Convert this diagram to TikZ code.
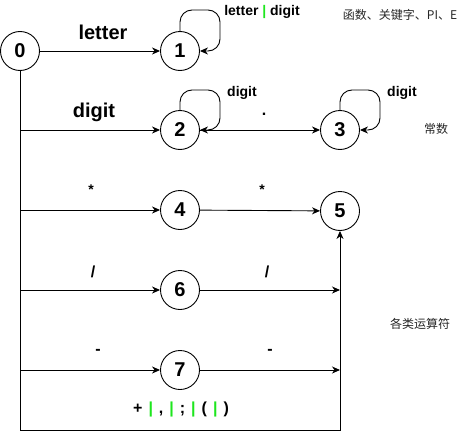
\documentclass[tikz,border=0pt]{standalone}
\usepackage{fontspec}
\setmainfont{Liberation Sans}
\newfontfamily\cjk{Noto Sans CJK SC}
\usetikzlibrary{arrows.meta}
\definecolor{bargreen}{RGB}{30,230,30}
\newcommand{\gbar}{\textcolor{bargreen}{|}}
\newcommand{\gsp}{\hspace{6pt}}
\begin{document}
\begin{tikzpicture}[x=1pt,y=-1pt,
  state/.style={circle, draw, line width=0.9pt, minimum size=39pt, inner sep=0pt, font=\fontsize{20}{24}\selectfont\bfseries},
  arr/.style={line width=0.9pt, -{Stealth[length=8pt,width=7pt,inset=2.5pt]}},
  big/.style={font=\fontsize{20}{24}\selectfont\bfseries, inner sep=0pt},
  small/.style={font=\fontsize{14}{16}\selectfont\bfseries, inner sep=0pt},
  mid/.style={font=\fontsize{16}{18}\selectfont\bfseries, inner sep=0pt},
  note/.style={font=\cjk\fontsize{12}{14}\selectfont, text=black!85, inner sep=0pt}]
\useasboundingbox (0,0) rectangle (471,439);

% states
\node[state] (n0) at (20,51) {0};
\node[state] (n1) at (180,51) {1};
\node[state] (n2) at (180,130) {2};
\node[state] (n3) at (340,130) {3};
\node[state] (n4) at (180,210) {4};
\node[state] (n5) at (340,211) {5};
\node[state] (n6) at (180,290) {6};
\node[state] (n7) at (180,370) {7};

% junctions
\coordinate (j2) at (20,130);
\coordinate (j4) at (20,210);
\coordinate (j6) at (20,290);
\coordinate (j7) at (20,370);
\coordinate (bl) at (20,430);
\coordinate (br) at (340,430);
\coordinate (e6) at (340,290);
\coordinate (e7) at (340,370);
\coordinate (l1) at (220,10);
\coordinate (l2) at (220,90);
\coordinate (l3) at (380,90);

% main trunk and bottom return
\draw[arr] (n0.south) -- (bl) -- (br) -- (n5.south);

% branches
\draw[arr] (n0) -- (n1);
\draw[arr] (j2) -- (n2);
\draw[arr] (j4) -- (n4);
\draw[arr] (j6) -- (n6);
\draw[arr] (j7) -- (n7);
\draw[arr] (n2) -- (n3);
\draw[arr] (n4) -- (n5);
\draw[arr] (n6) -- (e6);
\draw[arr] (n7) -- (e7);

% self loops
\draw[arr, rounded corners=12pt] (n1.north) |- (l1) |- (n1.east);
\draw[arr, rounded corners=12pt] (n2.north) |- (l2) |- (n2.east);
\draw[arr, rounded corners=12pt] (n3.north) |- (l3) |- (n3.east);

% labels
\node[big] (t1) at (103,32) {letter};
\node[small] (t1l) at (262,12) {letter \gbar{} digit};
\node[note] (c1) at (400,15) {函数、关键字、PI、E};
\node[big] (t2) at (94,112) {digit};
\node[small] (t2l) at (242,93) {digit};
\node[mid] (t23) at (264,114) {.};
\node[small] (t3l) at (402,93) {digit};
\node[note] (c2) at (436,129) {常数};
\node[small] (t4) at (91,190) {*};
\node[small] (t45) at (262,190) {*};
\node[mid] (t6) at (93,272) {/};
\node[mid] (t65) at (267,272) {/};
\node[mid] (t7) at (98,352) {-};
\node[mid] (t75) at (270,352) {-};
\node[note] (c3) at (420,324) {各类运算符};
\node[mid] (t0) at (181,409) {+\gsp\gbar\gsp,\gsp\gbar\gsp;\gsp\gbar\gsp(\gsp\gbar\gsp)};
\end{tikzpicture}
\end{document}
